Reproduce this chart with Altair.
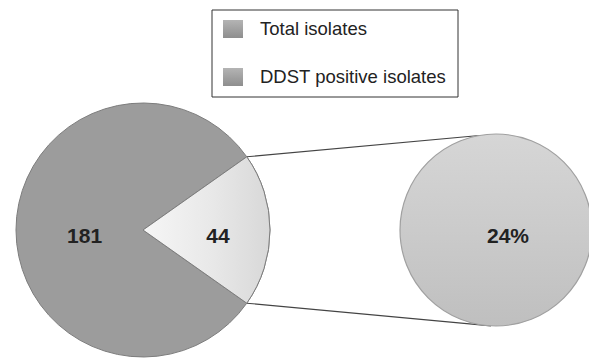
import math
import altair as alt
import pandas as pd

# ---- data ----
categories = ["DDST positive isolates", "Total isolates"]
counts = [44, 181]
legend_order = ["Total isolates", "DDST positive isolates"]

# ---- layout (pixels) ----
W, H = 589, 360
PIE_CX, PIE_CY, PIE_R = 143, 230, 127
BAR_CX, BAR_CY, BAR_R = 496, 230, 96

total = sum(counts)
frac = counts[0] / total
start = math.pi / 2 - frac * math.pi          # centre the small slice at 3 o'clock
theta_range = [start, start + 2 * math.pi]
pct_label = f"{round(100 * counts[0] / counts[1])}%"

pie_df = pd.DataFrame({"category": categories, "count": counts, "order": [0, 1]})

base_pie = alt.Chart(pie_df).encode(
    theta=alt.Theta("count:Q", stack=True, scale=alt.Scale(range=theta_range)),
    order=alt.Order("order:Q"),
)

pie = base_pie.mark_arc(stroke="#7d7d7d", strokeWidth=1).encode(
    x=alt.value(PIE_CX), y=alt.value(PIE_CY),
    radius=alt.value(PIE_R),
    color=alt.Color("category:N",
                    scale=alt.Scale(domain=categories, range=["#e2e2e2", "#9c9c9c"]),
                    legend=None),
)

grad = alt.LinearGradient(
    gradient="linear", x1=0, y1=0.5, x2=1, y2=0.5,
    stops=[alt.GradientStop(color="#f6f6f6", offset=0),
           alt.GradientStop(color="#e8e8e8", offset=0.55),
           alt.GradientStop(color="#d8d8d8", offset=1)],
)
pie_hi = base_pie.mark_arc(color=grad, stroke="#7d7d7d", strokeWidth=1).encode(
    x=alt.value(PIE_CX), y=alt.value(PIE_CY),
    radius=alt.value(PIE_R),
    fillOpacity=alt.condition(alt.datum.category == categories[0], alt.value(1), alt.value(0)),
    strokeOpacity=alt.condition(alt.datum.category == categories[0], alt.value(1), alt.value(0)),
)

# slice labels
lab_rows = []
cum = 0
for cat, c, rf in zip(categories, counts, [0.59, 0.46]):
    mid = start + 2 * math.pi * (cum + c / 2) / total
    cum += c
    lab_rows.append({"label": str(c),
                     "px": PIE_CX + rf * PIE_R * math.sin(mid),
                     "py": PIE_CY - rf * PIE_R * math.cos(mid) + 7})
lab_rows.append({"label": pct_label, "px": BAR_CX + 12, "py": BAR_CY + 7})
labels = alt.Chart(pd.DataFrame(lab_rows)).mark_text(
    font="Liberation Sans", fontSize=21, fontWeight="bold", color="#222222",
    align="center", baseline="middle",
).encode(x=alt.X("px:Q", scale=None), y=alt.Y("py:Q", scale=None), text="label:N")

# second circle (the 24 %)
circ_grad = alt.LinearGradient(
    gradient="linear", x1=0.5, y1=0, x2=0.5, y2=1,
    stops=[alt.GradientStop(color="#d6d6d6", offset=0),
           alt.GradientStop(color="#cbcbcb", offset=0.5),
           alt.GradientStop(color="#bfbfbf", offset=1)],
)
circle = alt.Chart(pd.DataFrame({"v": [counts[0]]})).mark_arc(
    color=circ_grad, stroke="#a0a0a0", strokeWidth=1.2,
    theta=0, theta2=2 * math.pi,
).encode(x=alt.value(BAR_CX), y=alt.value(BAR_CY), radius=alt.value(BAR_R))

# connector lines
a_top, a_bot = start, start + 2 * math.pi * frac
tb_top, tb_bot = math.radians(-10), math.radians(183)
conn_df = pd.DataFrame({
    "x": [PIE_CX + PIE_R * math.sin(a_top), PIE_CX + PIE_R * math.sin(a_bot)],
    "y": [PIE_CY - PIE_R * math.cos(a_top), PIE_CY - PIE_R * math.cos(a_bot)],
    "x2": [BAR_CX + BAR_R * math.sin(tb_top), BAR_CX + BAR_R * math.sin(tb_bot)],
    "y2": [BAR_CY - BAR_R * math.cos(tb_top), BAR_CY - BAR_R * math.cos(tb_bot)],
})
connectors = alt.Chart(conn_df).mark_rule(color="#444444", strokeWidth=1.1).encode(
    x=alt.X("x:Q", scale=None), y=alt.Y("y:Q", scale=None),
    x2="x2:Q", y2="y2:Q",
)

# legend (drawn manually as a boxed legend)
box = alt.Chart(pd.DataFrame({"x": [212], "y": [10], "x2": [458], "y2": [97]})).mark_rect(
    fill="white", stroke="#333333", strokeWidth=1,
).encode(x=alt.X("x:Q", scale=None), y=alt.Y("y:Q", scale=None), x2="x2:Q", y2="y2:Q")

leg_df = pd.DataFrame({"label": legend_order, "row": [0, 1]})
leg_df["sy"] = 29 + 48 * leg_df["row"]
leg_df["sx0"], leg_df["sx1"] = 223, 243
leg_df["sy0"], leg_df["sy1"] = leg_df["sy"] - 9, leg_df["sy"] + 9
leg_df["tx"] = 260
sq_grad = alt.LinearGradient(
    gradient="linear", x1=0.5, y1=0, x2=0.5, y2=1,
    stops=[alt.GradientStop(color="#b4b4b4", offset=0),
           alt.GradientStop(color="#8e8e8e", offset=1)],
)
swatches = alt.Chart(leg_df).mark_rect(color=sq_grad).encode(
    x=alt.X("sx0:Q", scale=None), x2="sx1:Q",
    y=alt.Y("sy0:Q", scale=None), y2="sy1:Q",
)
leg_text = alt.Chart(leg_df).mark_text(
    font="Liberation Sans", fontSize=18.5, color="#222222", align="left", baseline="middle",
).encode(x=alt.X("tx:Q", scale=None), y=alt.Y("sy:Q", scale=None), text="label:N")

chart = alt.layer(connectors, pie, pie_hi, circle, labels, box, swatches, leg_text).properties(
    width=W, height=H, autosize="none", padding=0,
).configure_view(stroke=None)

chart.save("out.html", embed_options={"renderer": "svg", "actions": False})
